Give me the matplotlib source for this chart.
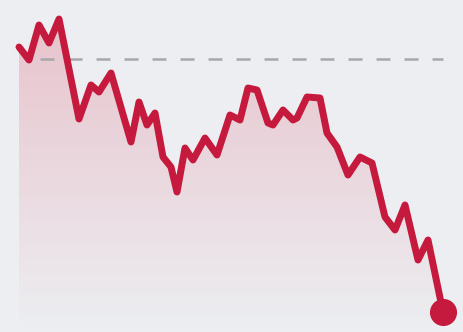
import numpy as np
import matplotlib.pyplot as plt
from matplotlib.path import Path
from matplotlib.patches import PathPatch

# trading day index and closing price
days = [0, 2.5, 5, 7.5, 10, 15, 18, 20, 23, 28, 30, 32, 34, 36, 38, 39.5,
        41.5, 43.5, 46.5, 49.5, 52.75, 55.25, 57.25, 59.5, 62.25, 63.5, 66,
        68.5, 69.5, 72, 75.25, 77, 79.5, 82.25, 85.25, 88.25, 91.5, 94, 96.5,
        99.75, 102.25, 106]
price = [101.2, 99.9, 103.4, 101.6, 104.0, 94.0, 97.4, 96.7, 98.6, 91.7,
         95.7, 93.4, 94.6, 90.2, 89.2, 86.7, 91.1, 89.9, 92.1, 90.4, 94.4,
         93.9, 97.1, 96.9, 93.6, 93.4, 94.9, 93.9, 94.1, 96.2, 96.1, 92.6,
         91.2, 88.4, 90.2, 89.6, 84.2, 82.9, 85.4, 79.9, 81.9, 74.7]
reference = 100.0
ref_start, ref_end = 5.25, 106

bg = "#eceef1"
red = "#c51a3d"

fig = plt.figure(figsize=(4.64, 3.32), dpi=100, facecolor=bg)
ax = fig.add_axes([0, 0, 1, 1], facecolor=bg)
xmin, xmax = -4.75, 111.25
ymin, ymax = 72.7, 105.9
ax.set_xlim(xmin, xmax)
ax.set_ylim(ymin, ymax)
ax.axis("off")

# gradient fill under the line, strongest near the top
verts = [(days[0], ymin)] + list(zip(days, price)) + [(days[-1], ymin), (days[0], ymin)]
clip = PathPatch(Path(verts), facecolor="none", edgecolor="none")
ax.add_patch(clip)
grad = np.zeros((256, 1, 4))
grad[..., 0] = 0.86
grad[..., 1] = 0.16
grad[..., 2] = 0.28
grad[..., 3] = np.linspace(0.22, 0.0, 256)[:, None]
img = ax.imshow(grad, extent=[days[0], days[-1], ymin, max(price)],
                aspect="auto", origin="upper", zorder=1)
img.set_clip_path(clip)

# reference level
ax.plot([ref_start, ref_end], [reference, reference], color="#a6a8aa",
        lw=1.8, dashes=(5.6, 5.6), zorder=2)

ax.plot(days, price, color=red, lw=5, solid_joinstyle="round",
        solid_capstyle="round", zorder=3)
ax.plot(days[-1], price[-1], "o", color=red, ms=18.5, zorder=4)

fig.savefig("out.png", dpi=100, facecolor=bg)
